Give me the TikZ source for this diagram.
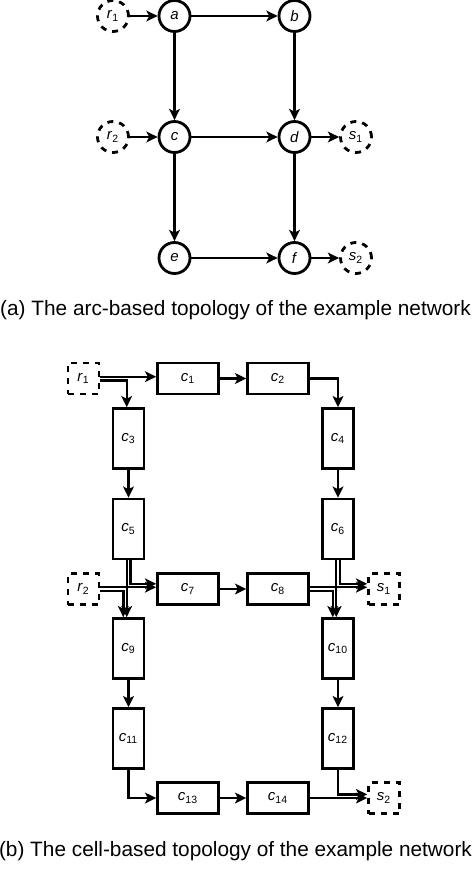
\documentclass[tikz,border=0pt]{standalone}
\usepackage{fontspec}
\setmainfont{Liberation Sans}
\usetikzlibrary{arrows.meta}

\begin{document}
\begin{tikzpicture}[
  x=0.5pt,
  y=-0.5pt,
  station/.style={
    draw,
    circle,
    line width=1.4pt,
    minimum size=15.5pt,
    inner sep=0pt,
    font=\fontsize{7.5}{9}\selectfont
  },
  terminal/.style={station, dashed},
  cell/.style={
    draw,
    line width=1.3pt,
    minimum width=30.5pt,
    minimum height=15.5pt,
    inner sep=0pt,
    font=\fontsize{7.5}{9}\selectfont
  },
  cellv/.style={cell, minimum width=15.5pt, minimum height=30pt},
  port/.style={cell, dashed, minimum width=15.5pt, minimum height=15.5pt},
  arrow/.style={-{Stealth[length=5.6pt,width=5.4pt,inset=1.4pt]}, line width=1.2pt},
  caption/.style={font=\fontsize{10.4}{12.5}\selectfont, inner sep=0pt}
]
\useasboundingbox (0,0) rectangle (471,871);

\node[terminal] (r1) at (113,16) {\textit{r}\textsubscript{1}};
\node[station] (a) at (174.5,16) {\textit{a}};
\node[station] (b) at (294.5,16) {\textit{b}};
\node[terminal] (r2) at (113,137) {\textit{r}\textsubscript{2}};
\node[station] (c) at (174.5,137) {\textit{c}};
\node[station] (d) at (294.5,137) {\textit{d}};
\node[terminal] (s1) at (356,137) {\textit{s}\textsubscript{1}};
\node[station] (e) at (174.5,258) {\textit{e}};
\node[station] (f) at (294.5,258) {\textit{f}};
\node[terminal] (s2) at (356,258) {\textit{s}\textsubscript{2}};

\draw[arrow] (r1) -- (a);
\draw[arrow] (a) -- (b);
\draw[arrow] (a) -- (c);
\draw[arrow] (b) -- (d);
\draw[arrow] (r2) -- (c);
\draw[arrow] (c) -- (d);
\draw[arrow] (d) -- (s1);
\draw[arrow] (c) -- (e);
\draw[arrow] (d) -- (f);
\draw[arrow] (e) -- (f);
\draw[arrow] (f) -- (s2);

\node[caption] (capa) at (235.5,310) {(a) The arc-based topology of the example network};

\node[port] (r1c) at (83.5,378.5) {\textit{r}\textsubscript{1}};
\node[cell] (c1) at (188,378.5) {\textit{c}\textsubscript{1}};
\node[cell] (c2) at (278,378.5) {\textit{c}\textsubscript{2}};
\node[cellv] (c3) at (128.5,438.5) {\textit{c}\textsubscript{3}};
\node[cellv] (c4) at (338,438.5) {\textit{c}\textsubscript{4}};
\node[cellv] (c5) at (128.5,529) {\textit{c}\textsubscript{5}};
\node[cellv] (c6) at (338,529) {\textit{c}\textsubscript{6}};
\node[port] (r2c) at (83.5,589) {\textit{r}\textsubscript{2}};
\node[cell] (c7) at (188,589) {\textit{c}\textsubscript{7}};
\node[cell] (c8) at (278,589) {\textit{c}\textsubscript{8}};
\node[port] (s1c) at (384,589) {\textit{s}\textsubscript{1}};
\node[cellv] (c9) at (128.5,648.5) {\textit{c}\textsubscript{9}};
\node[cellv] (c10) at (338,648.5) {\textit{c}\textsubscript{10}};
\node[cellv] (c11) at (128.5,738.5) {\textit{c}\textsubscript{11}};
\node[cellv] (c12) at (338,738.5) {\textit{c}\textsubscript{12}};
\node[cell] (c13) at (188,798) {\textit{c}\textsubscript{13}};
\node[cell] (c14) at (278,798) {\textit{c}\textsubscript{14}};
\node[port] (s2c) at (384,798) {\textit{s}\textsubscript{2}};

\draw[arrow] ([yshift=0.9pt]r1c.east) -- ([yshift=0.9pt]c1.west);
\draw[arrow] ([yshift=-0.9pt]r1c.east) -| ([xshift=-0.9pt]c3.north);
\draw[arrow] (c1) -- (c2);
\draw[arrow] (c2.east) -| (c4.north);
\draw[arrow] (c3) -- (c5);
\draw[arrow] (c4) -- (c6);

\draw[arrow] ([xshift=-0.9pt]c5.south) -- ([xshift=-0.9pt]c9.north);
\draw[arrow] ([xshift=0.9pt]c5.south) |- ([yshift=2.6pt]c7.west);
\draw[arrow] ([yshift=0.9pt]r2c.east) -- ([yshift=0.9pt]c7.west);
\draw[arrow] ([yshift=-0.9pt]r2c.east) -| ([xshift=-2.6pt]c9.north);
\draw[arrow] (c7) -- (c8);

\draw[arrow] ([xshift=-0.9pt]c6.south) -- ([xshift=-0.9pt]c10.north);
\draw[arrow] ([xshift=0.9pt]c6.south) |- ([yshift=2.6pt]s1c.west);
\draw[arrow] ([yshift=0.9pt]c8.east) -- ([yshift=0.9pt]s1c.west);
\draw[arrow] ([yshift=-0.9pt]c8.east) -| ([xshift=-2.6pt]c10.north);

\draw[arrow] (c9) -- (c11);
\draw[arrow] (c10) -- (c12);
\draw[arrow] (c11.south) |- (c13.west);
\draw[arrow] (c13) -- (c14);
\draw[arrow] (c12.south) |- ([yshift=1.8pt]s2c.west);
\draw[arrow] (c14) -- (s2c);

\node[caption] (capb) at (235.5,851) {(b) The cell-based topology of the example network};
\end{tikzpicture}
\end{document}
